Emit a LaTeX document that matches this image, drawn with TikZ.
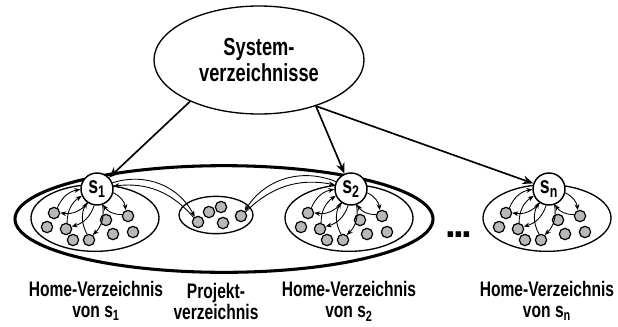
\documentclass[tikz,border=0pt]{standalone}
\usepackage{fontspec}
\newfontfamily\lblfont[FakeStretch=0.74]{Liberation Sans}
\newfontfamily\plainsans{Liberation Sans}
\usetikzlibrary{arrows.meta,shapes.geometric}

\begin{document}
\begin{tikzpicture}[x=0.75pt,y=-0.75pt,
  lbl/.style={font=\lblfont\bfseries\fontsize{15.8}{15.8}\selectfont, align=center, inner sep=0pt},
  syslbl/.style={font=\lblfont\bfseries\fontsize{18.5}{20}\selectfont, align=center},
  ell/.style={ellipse, draw, line width=1pt, inner sep=0pt},
  dot/.style={circle, draw, fill=black!28, line width=0.9pt, minimum size=8.5pt, inner sep=0pt},
  snode/.style={circle, draw, fill=white, line width=1.1pt, minimum size=24pt, inner sep=0pt,
    font=\lblfont\bfseries\fontsize{18}{18}\selectfont},
  small/.style={-{Stealth[length=4.5pt,width=3.6pt]}, line width=0.65pt},
  big/.style={-{Stealth[length=8pt,width=6.5pt]}, line width=1.25pt},
]
\useasboundingbox (0,0) rectangle (618,326);

% top node
\node[ell, minimum width=157.5pt, minimum height=81pt, syslbl] (sys) at (259,60)
  {System-\\verzeichnisse};

% group of home and project directories
\node[ell, line width=2.3pt, minimum width=313.5pt, minimum height=80pt] (grp) at (224,219) {};

% project directory
\node[ell, minimum width=55.5pt, minimum height=28pt] (proj) at (216,215) {};
\foreach \i/\px/\py in {1/198/222, 2/209/212, 3/221/207, 4/223/223, 5/241/216}
  \node[dot] (p\i) at (\px,\py) {};

% home directories
\foreach \c/\cx in {1/97, 2/351, n/549} {
  \node[ell, minimum width=96pt, minimum height=50pt] (h\c) at (\cx-2,218) {};
  \foreach \i/\dx/\dy in {1/-43/22, 2/-50/36, 3/-31/38, 4/-24/49, 5/-8/49,
                          6/9/29, 7/16/43, 8/31/25, 9/36/41}
    \node[dot] (d\c-\i) at (\cx+\dx,191+\dy) {};
  \node[snode] (s\c) at (\cx,189) {s\textsubscript{\c}};
  \foreach \i in {1,3,5,8} {
    \draw[small] (s\c) to[bend left=28] (d\c-\i);
    \draw[small] (d\c-\i) to[bend left=28] (s\c);
  }
}

% links into the project directory
\draw[small] (s1) to[bend left=40] (p1);
\draw[small] (p1) to[bend right=28] (s1);
\draw[small] (s2) to[bend right=40] (p5);
\draw[small] (p5) to[bend left=28] (s2);

% links from the system directories
\draw[big] (sys.211) -- (s1);
\draw[big] (sys.321) -- (s2);
\draw[big] (sys.321) -- (sn);

\node[font=\plainsans\bfseries\fontsize{29}{29}\selectfont, inner sep=0pt] (dots) at (459,235)
  {.\kern-2.2pt.\kern-2.2pt.};

% captions
\node[lbl] (c1) at (96,301) {Home-Verzeichnis\\von s\textsubscript{1}};
\node[lbl] (cp) at (216,301) {Projekt-\\verzeichnis};
\node[lbl] (c2) at (349,301) {Home-Verzeichnis\\von s\textsubscript{2}};
\node[lbl] (cn) at (547,301) {Home-Verzeichnis\\von s\textsubscript{n}};
\end{tikzpicture}
\end{document}
